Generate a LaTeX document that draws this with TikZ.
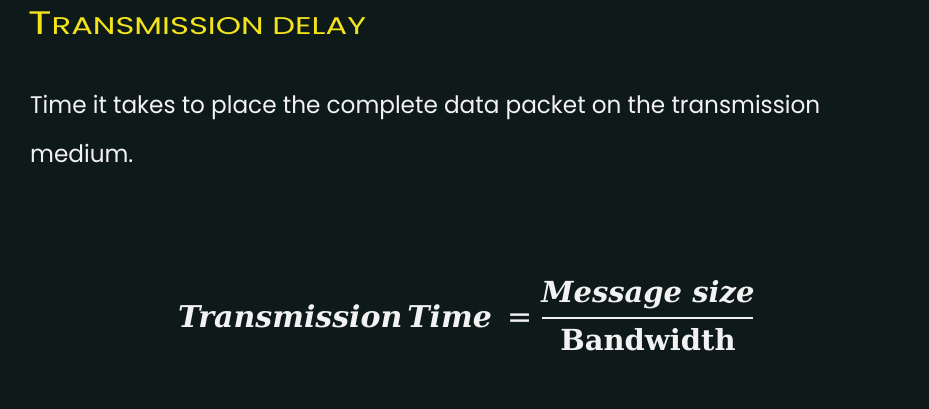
\documentclass[tikz,border=0pt]{standalone}
\usepackage{fontspec}
\setmainfont{DejaVu Serif}
\newfontfamily\bodyfont{Poppins}
\newfontfamily\titlefont{Poppins}
\newfontfamily\eqfont{DejaVu Sans}
\definecolor{bg}{HTML}{0E1A1A}
\definecolor{ttl}{HTML}{F2E31A}
\definecolor{txt}{HTML}{F2F2F2}
\begin{document}
\begin{tikzpicture}[x=1pt,y=-1pt,
  titletext/.style={anchor=base west,inner sep=0pt,text=ttl,font=\titlefont},
  bodytext/.style={anchor=base west,inner sep=0pt,text=txt,font=\bodyfont\fontsize{24}{30}\selectfont},
  formtext/.style={anchor=base west,inner sep=0pt,text=txt,font=\fontsize{29}{36}\selectfont\bfseries}]
\useasboundingbox (0,0) rectangle (929,409);
\fill[bg] (0,0) rectangle (929,409);
\node[titletext] (title) at (28,35) {\scalebox{1.40}[1.05]{{\fontsize{31}{32}\selectfont T}{\fontsize{23}{24}\selectfont RANSMISSION DELAY}}};
\node[bodytext] (line1) at (30,114) {\scalebox{0.965}[1]{Time it takes to place the complete data packet on the transmission}};
\node[bodytext] (line2) at (30,162) {\scalebox{0.965}[1]{medium.}};
\node[formtext,font=\fontsize{30}{36}\selectfont\bfseries] (lhs) at (178,327) {\itshape Transmission\,Time};
\node[formtext,anchor=base,font=\eqfont\fontsize{30}{36}\selectfont] (eq) at (520,327) {=};
\node[formtext,anchor=base] (num) at (648,302) {\itshape Message size};
\node[formtext,anchor=base] (den) at (648,350) {Bandwidth};
\coordinate (barL) at (542,318);
\coordinate (barR) at (753,318);
\draw[txt,line width=2pt] (barL) -- (barR);
\end{tikzpicture}
\end{document}
